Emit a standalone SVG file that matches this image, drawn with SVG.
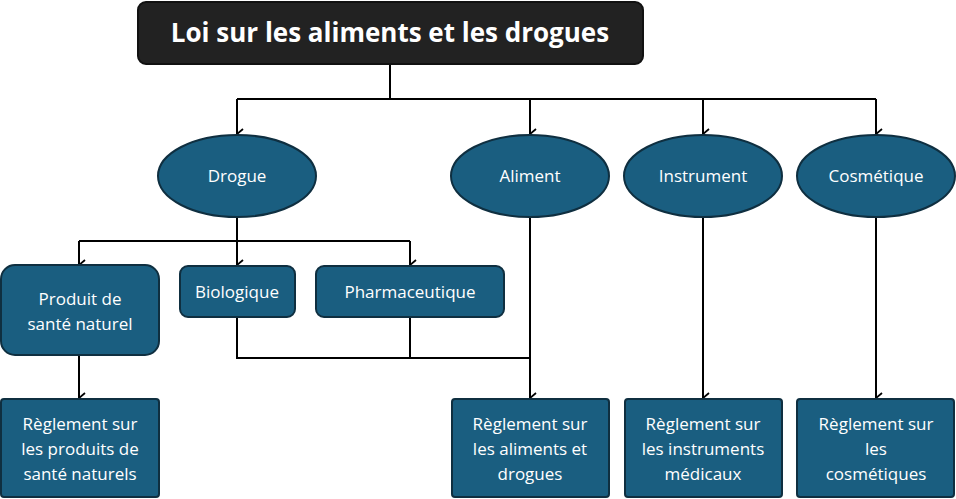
<svg xmlns="http://www.w3.org/2000/svg" width="956" height="499" viewBox="0 0 956 499">
<defs>
<style>
.n{fill:#1a5e80;stroke:#0f2f40;stroke-width:2}
.t{fill:#fff;font-family:"Open Sans","Liberation Sans",sans-serif;font-size:17px;text-anchor:middle}
.c{fill:none;stroke:#000;stroke-width:2}
</style>
<marker id="a" viewBox="0 0 12 12" refX="6" refY="11" markerWidth="12" markerHeight="12" markerUnits="userSpaceOnUse" orient="auto-start-reverse">
<path d="M1,5 L6,11 L11,5" fill="none" stroke="#000" stroke-width="1.8"/>
</marker>
</defs>
<rect width="956" height="499" fill="#fff"/>
<g id="connectors" class="c">
<path d="M390,64 V99 M237,99 H876"/>
<path d="M237,99 V134" marker-end="url(#a)"/>
<path d="M530,99 V134" marker-end="url(#a)"/>
<path d="M703,99 V134" marker-end="url(#a)"/>
<path d="M876,99 V134" marker-end="url(#a)"/>
<path d="M237,217 V241 M79,241 H410"/>
<path d="M79,241 V265" marker-end="url(#a)"/>
<path d="M237,241 V265" marker-end="url(#a)"/>
<path d="M410,241 V265" marker-end="url(#a)"/>
<path d="M237,317 V358 H530 M410,317 V358"/>
<path d="M530,217 V398" marker-end="url(#a)"/>
<path d="M703,217 V398" marker-end="url(#a)"/>
<path d="M876,217 V398" marker-end="url(#a)"/>
<path d="M79,355 V398" marker-end="url(#a)"/>
</g>
<g id="title"><rect x="138" y="2" width="505" height="62" rx="8" fill="#222" stroke="#111" stroke-width="2"/>
<text x="390" y="42" fill="#fff" font-family="'Open Sans','Liberation Sans',sans-serif" font-size="26" font-weight="bold" text-anchor="middle">Loi sur les aliments et les drogues</text></g>
<g id="drogue"><ellipse class="n" cx="237" cy="176" rx="79" ry="41"/><text class="t" x="237" y="182">Drogue</text></g>
<g id="aliment"><ellipse class="n" cx="530" cy="176" rx="79" ry="41"/><text class="t" x="530" y="182">Aliment</text></g>
<g id="instrument"><ellipse class="n" cx="703" cy="176" rx="79" ry="41"/><text class="t" x="703" y="182">Instrument</text></g>
<g id="cosmetique"><ellipse class="n" cx="876" cy="176" rx="79" ry="41"/><text class="t" x="876" y="182">Cosmétique</text></g>
<g id="psn"><rect class="n" x="1" y="265" width="158" height="90" rx="14"/><text class="t" x="80" y="305">Produit de</text><text class="t" x="80" y="330">santé naturel</text></g>
<g id="bio"><rect class="n" x="180" y="266" width="115" height="51" rx="8"/><text class="t" x="237" y="298">Biologique</text></g>
<g id="pharma"><rect class="n" x="316" y="266" width="188" height="51" rx="8"/><text class="t" x="410" y="298">Pharmaceutique</text></g>
<g id="r1"><rect class="n" x="1" y="399" width="158" height="98" rx="3"/><text class="t" x="80" y="430">Règlement sur</text><text class="t" x="80" y="455">les produits de</text><text class="t" x="80" y="480">santé naturels</text></g>
<g id="r2"><rect class="n" x="452" y="399" width="157" height="98" rx="3"/><text class="t" x="530" y="430">Règlement sur</text><text class="t" x="530" y="455">les aliments et</text><text class="t" x="530" y="480">drogues</text></g>
<g id="r3"><rect class="n" x="625" y="399" width="157" height="98" rx="3"/><text class="t" x="703" y="430">Règlement sur</text><text class="t" x="703" y="455">les instruments</text><text class="t" x="703" y="480">médicaux</text></g>
<g id="r4"><rect class="n" x="797" y="399" width="157" height="98" rx="3"/><text class="t" x="876" y="430">Règlement sur</text><text class="t" x="876" y="455">les</text><text class="t" x="876" y="480">cosmétiques</text></g>
</svg>
